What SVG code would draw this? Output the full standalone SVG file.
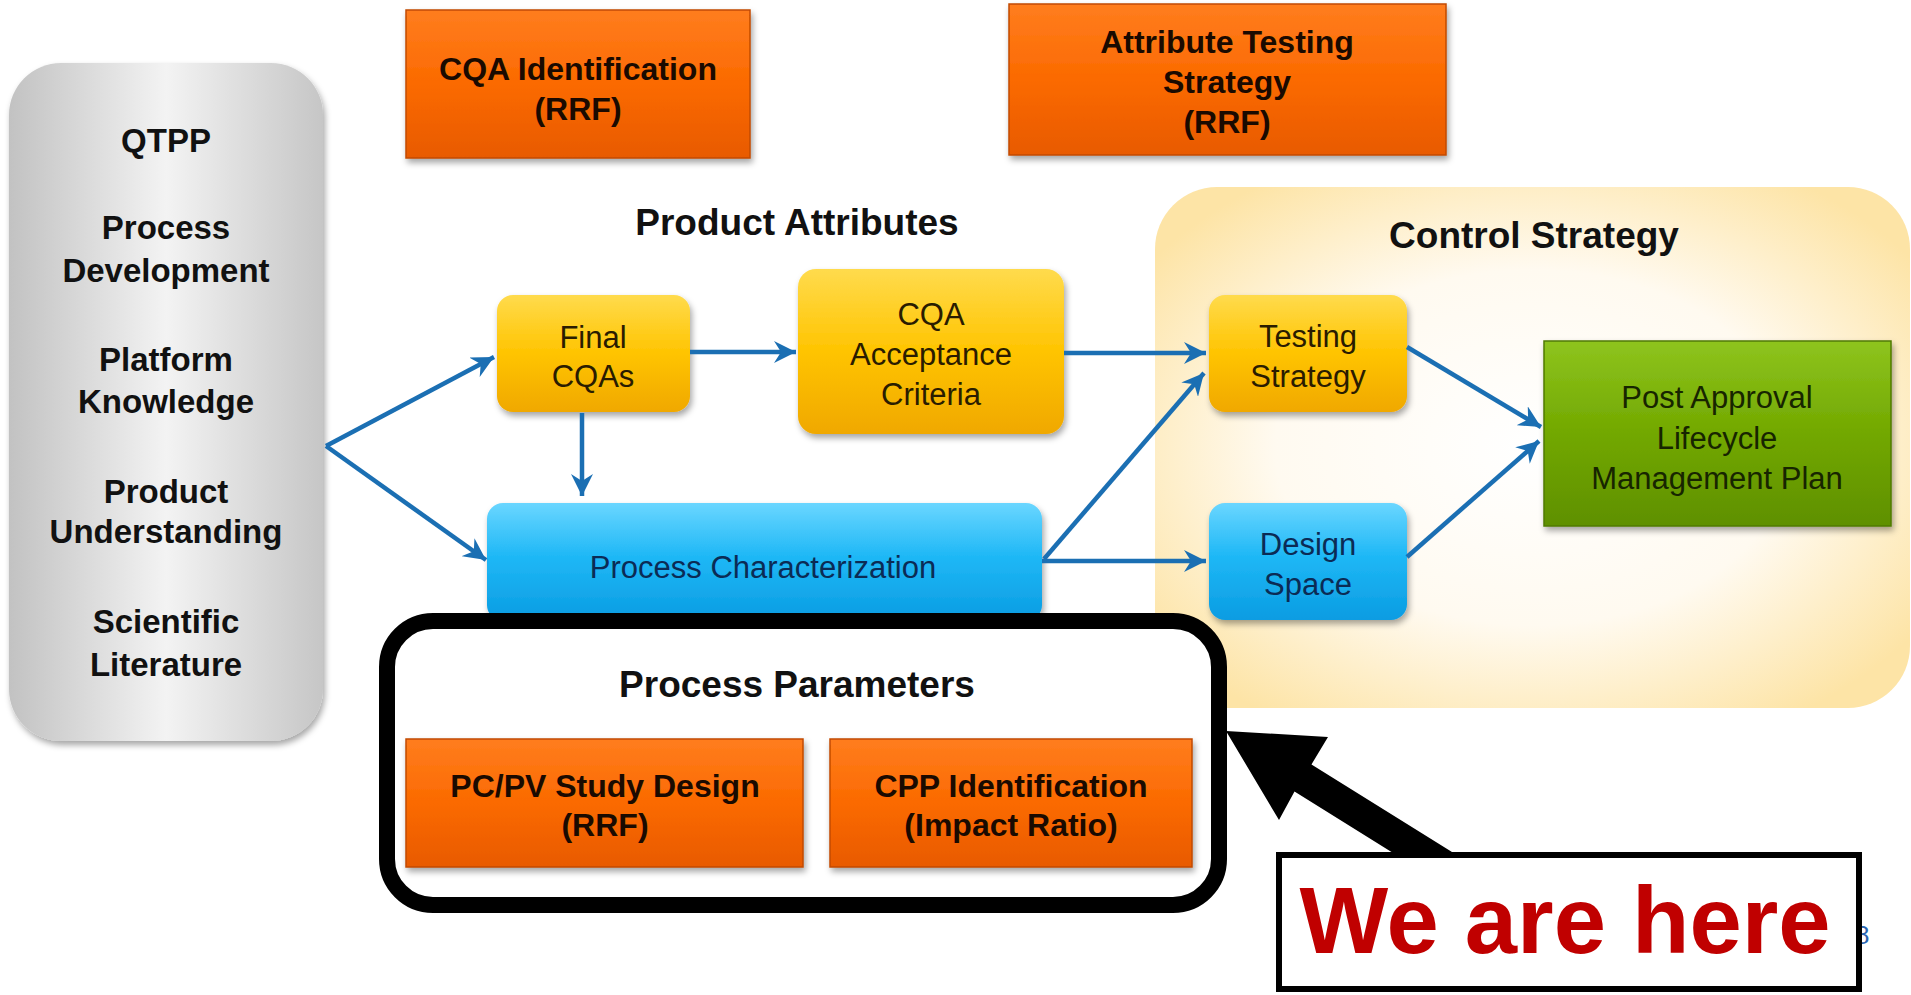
<svg xmlns="http://www.w3.org/2000/svg" width="1911" height="995" viewBox="0 0 1911 995">
<defs>
  <linearGradient id="gOrange" x1="0" y1="0" x2="0" y2="1">
    <stop offset="0" stop-color="#ff7d1e"/>
    <stop offset="0.5" stop-color="#fb6a00"/>
    <stop offset="1" stop-color="#e85a00"/>
  </linearGradient>
  <linearGradient id="gYellow" x1="0" y1="0" x2="0" y2="1">
    <stop offset="0" stop-color="#ffdb4d"/>
    <stop offset="0.5" stop-color="#ffc400"/>
    <stop offset="1" stop-color="#f0a800"/>
  </linearGradient>
  <linearGradient id="gBlue" x1="0" y1="0" x2="0" y2="1">
    <stop offset="0" stop-color="#6ad6ff"/>
    <stop offset="0.45" stop-color="#1fb8f6"/>
    <stop offset="1" stop-color="#0a9ce2"/>
  </linearGradient>
  <linearGradient id="gGreen" x1="0" y1="0" x2="0" y2="1">
    <stop offset="0" stop-color="#8ec41e"/>
    <stop offset="0.5" stop-color="#72a800"/>
    <stop offset="1" stop-color="#5f9000"/>
  </linearGradient>
  <linearGradient id="gGray" x1="0" y1="0" x2="1" y2="0">
    <stop offset="0" stop-color="#c2c2c2"/>
    <stop offset="0.5" stop-color="#f3f3f3"/>
    <stop offset="1" stop-color="#c6c6c6"/>
  </linearGradient>
  <radialGradient id="gCream" cx="0.5" cy="0.5" r="0.62">
    <stop offset="0" stop-color="#ffffff"/>
    <stop offset="0.55" stop-color="#fffaf0"/>
    <stop offset="1" stop-color="#fde4a6"/>
  </radialGradient>
  <filter id="shadow" x="-10%" y="-10%" width="130%" height="140%">
    <feDropShadow dx="2" dy="4" stdDeviation="3" flood-color="#000" flood-opacity="0.35"/>
  </filter>
  <marker id="arrow" markerUnits="userSpaceOnUse" markerWidth="26" markerHeight="22" refX="22" refY="11" orient="auto">
    <path d="M0,0 L22,11 L0,22 L7,11 z" fill="#1b6fb3"/>
  </marker>
  <style>
    .hdr { font-family: "Liberation Sans", Arial, sans-serif; font-weight: bold; fill: #111; text-anchor: middle; }
    .gray { font-size: 33px; }
    .orng { font-family: "Liberation Sans", Arial, sans-serif; font-weight: bold; font-size: 32px; fill: #1a0a00; text-anchor: middle; }
    .box { font-family: "Liberation Sans", Arial, sans-serif; font-size: 31px; text-anchor: middle; }
    .ytx { fill: #2a1c00; }
    .btx { fill: #0b2b55; }
    .gtx { fill: #172500; }
    .conn { stroke: #1b6fb3; stroke-width: 4.5; fill: none; marker-end: url(#arrow); }
  </style>
</defs>

<rect width="1911" height="995" fill="#ffffff"/>

<g id="control-strategy">
  <rect x="1155" y="187" width="755" height="521" rx="62" fill="url(#gCream)"/>
  <text class="hdr" x="1534" y="248" font-size="37">Control Strategy</text>
</g>

<g id="inputs">
  <rect x="9" y="63" width="314" height="678" rx="52" fill="url(#gGray)" filter="url(#shadow)"/>
  <text class="hdr gray" x="166" y="152">QTPP</text>
  <text class="hdr gray" x="166" y="239">Process</text>
  <text class="hdr gray" x="166" y="282">Development</text>
  <text class="hdr gray" x="166" y="371">Platform</text>
  <text class="hdr gray" x="166" y="413">Knowledge</text>
  <text class="hdr gray" x="166" y="503">Product</text>
  <text class="hdr gray" x="166" y="543">Understanding</text>
  <text class="hdr gray" x="166" y="633">Scientific</text>
  <text class="hdr gray" x="166" y="676">Literature</text>
</g>

<g id="cqa-identification">
  <rect x="406" y="10" width="344" height="148" fill="url(#gOrange)" stroke="#c24b00" stroke-width="1.5" filter="url(#shadow)"/>
  <text class="orng" x="578" y="80">CQA Identification</text>
  <text class="orng" x="578" y="120">(RRF)</text>
</g>

<g id="attribute-testing">
  <rect x="1009" y="4" width="437" height="151" fill="url(#gOrange)" stroke="#c24b00" stroke-width="1.5" filter="url(#shadow)"/>
  <text class="orng" x="1227" y="53">Attribute Testing</text>
  <text class="orng" x="1227" y="93">Strategy</text>
  <text class="orng" x="1227" y="133">(RRF)</text>
</g>

<g id="product-attributes-label">
  <text class="hdr" x="797" y="235" font-size="37">Product Attributes</text>
</g>

<g id="final-cqas">
  <rect x="497" y="295" width="193" height="117" rx="16" fill="url(#gYellow)" filter="url(#shadow)"/>
  <text class="box ytx" x="593" y="348">Final</text>
  <text class="box ytx" x="593" y="387">CQAs</text>
</g>

<g id="cqa-acceptance">
  <rect x="798" y="269" width="266" height="165" rx="18" fill="url(#gYellow)" filter="url(#shadow)"/>
  <text class="box ytx" x="931" y="325">CQA</text>
  <text class="box ytx" x="931" y="365">Acceptance</text>
  <text class="box ytx" x="931" y="405">Criteria</text>
</g>

<g id="testing-strategy">
  <rect x="1209" y="295" width="198" height="117" rx="16" fill="url(#gYellow)" filter="url(#shadow)"/>
  <text class="box ytx" x="1308" y="347">Testing</text>
  <text class="box ytx" x="1308" y="387">Strategy</text>
</g>

<g id="post-approval">
  <rect x="1544" y="341" width="347" height="185" fill="url(#gGreen)" stroke="#4f7a00" stroke-width="1.5" filter="url(#shadow)"/>
  <text class="box gtx" x="1717" y="408">Post Approval</text>
  <text class="box gtx" x="1717" y="449">Lifecycle</text>
  <text class="box gtx" x="1717" y="489">Management Plan</text>
</g>

<g id="design-space">
  <rect x="1209" y="503" width="198" height="117" rx="16" fill="url(#gBlue)" filter="url(#shadow)"/>
  <text class="box btx" x="1308" y="555">Design</text>
  <text class="box btx" x="1308" y="595">Space</text>
</g>

<g id="process-characterization">
  <rect x="487" y="503" width="555" height="118" rx="16" fill="url(#gBlue)" filter="url(#shadow)"/>
  <text class="box btx" x="763" y="578">Process Characterization</text>
</g>

<g id="connectors">
  <path class="conn" d="M326,446 L494,357"/>
  <path class="conn" d="M326,446 L486,560"/>
  <path class="conn" d="M690,352 L796,352"/>
  <path class="conn" d="M582,413 L582,496"/>
  <path class="conn" d="M1064,353 L1206,353"/>
  <path class="conn" d="M1044,559 L1204,373"/>
  <path class="conn" d="M1042,561 L1206,561"/>
  <path class="conn" d="M1407,347 L1541,427"/>
  <path class="conn" d="M1407,557 L1539,441"/>
</g>

<g id="process-parameters">
  <rect x="387" y="621" width="832" height="284" rx="46" fill="#ffffff" stroke="#000" stroke-width="16"/>
  <text class="hdr" x="797" y="697" font-size="37">Process Parameters</text>
</g>

<g id="pcpv-study">
  <rect x="406" y="739" width="397" height="128" fill="url(#gOrange)" stroke="#c24b00" stroke-width="1.5" filter="url(#shadow)"/>
  <text class="orng" x="605" y="797">PC/PV Study Design</text>
  <text class="orng" x="605" y="836">(RRF)</text>
</g>

<g id="cpp-identification">
  <rect x="830" y="739" width="362" height="128" fill="url(#gOrange)" stroke="#c24b00" stroke-width="1.5" filter="url(#shadow)"/>
  <text class="orng" x="1011" y="797">CPP Identification</text>
  <text class="orng" x="1011" y="836">(Impact Ratio)</text>
</g>

<g id="page-number">
  <text x="1855" y="944" font-family="Liberation Sans, Arial, sans-serif" font-size="26" fill="#2a64b0">8</text>
</g>

<g id="we-are-here">
  <polygon points="1226,731 1328,737 1311.5,764.4 1452,852 1391.5,852 1294.5,791.6 1279,820" fill="#000"/>
  <rect x="1279" y="855" width="580" height="134" fill="#ffffff" stroke="#000" stroke-width="6"/>
  <text x="1565" y="953" font-family="Liberation Sans, Arial, sans-serif" font-weight="bold" font-size="94" fill="#c00000" text-anchor="middle">We are here</text>
</g>
</svg>
